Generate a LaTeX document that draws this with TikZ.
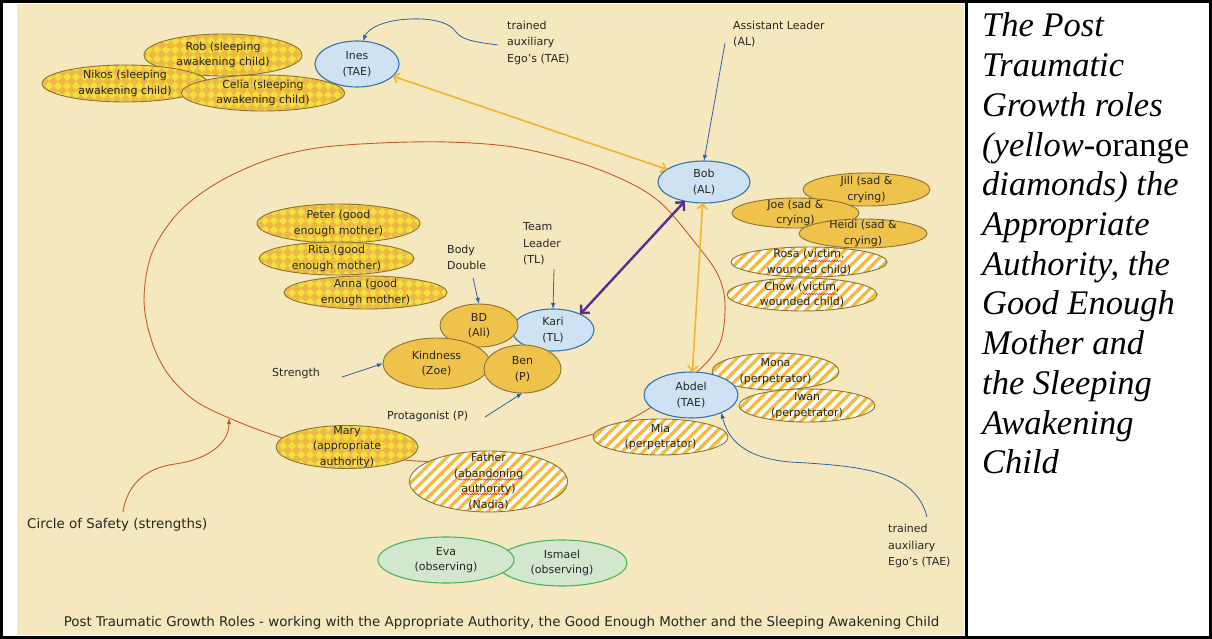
\documentclass[tikz,border=0pt]{standalone}
\usepackage{fontspec}
\newfontfamily\df{DejaVu Sans}
\newfontfamily\tn{Liberation Serif}
\usetikzlibrary{shapes.geometric,arrows.meta,patterns,patterns.meta,decorations.pathmorphing}
\definecolor{bgc}{HTML}{F6E8BE}
\definecolor{txt}{HTML}{262626}
\definecolor{blueF}{HTML}{CFE2F3}
\definecolor{blueB}{HTML}{2E75B6}
\definecolor{goldF}{HTML}{EFC24C}
\definecolor{goldB}{HTML}{8C7233}
\definecolor{dmBase}{HTML}{EDB845}
\definecolor{dmTop}{HTML}{F3E03C}
\definecolor{stripeC}{HTML}{F2BB3D}
\definecolor{grnF}{HTML}{D3E7CF}
\definecolor{grnB}{HTML}{49B565}
\definecolor{arrowblue}{HTML}{3060B0}
\definecolor{orangeA}{HTML}{F7B32B}
\definecolor{purpleA}{HTML}{5C2D91}
\definecolor{ellred}{HTML}{C55A2A}
\definecolor{squigred}{HTML}{E0303A}
\pgfdeclarepatternformonly{pdiam}{\pgfqpoint{0pt}{0pt}}{\pgfqpoint{9pt}{9pt}}{\pgfqpoint{9pt}{9pt}}{%
  \pgfpathmoveto{\pgfqpoint{4.5pt}{0pt}}\pgfpathlineto{\pgfqpoint{9pt}{4.5pt}}%
  \pgfpathlineto{\pgfqpoint{4.5pt}{9pt}}\pgfpathlineto{\pgfqpoint{0pt}{4.5pt}}%
  \pgfpathclose\pgfusepath{fill}}
\newcommand\EL[7]{%
  \node[#2,minimum width=#5pt,minimum height=#6pt] (#1) at (#3,#4) {};
  \node[etxt] (#1-t) at (#1.center) {#7};}
\begin{document}
\begin{tikzpicture}[x=1pt,y=-1pt,
  etxt/.style={font=\df\fontsize{11}{15.5}\selectfont, text=txt, inner sep=0pt, align=center},
  lbl/.style={font=\df\fontsize{11}{16.5}\selectfont, text=txt, inner sep=0pt, align=left, anchor=west},
  nbase/.style={ellipse, inner sep=0pt, outer sep=0pt},
  nblue/.style={nbase, draw=blueB, fill=blueF, line width=1.1pt},
  ngold/.style={nbase, draw=goldB, fill=goldF, line width=0.9pt},
  ndiam/.style={nbase, draw=goldB, line width=0.9pt, preaction={fill=dmBase}, pattern=pdiam, pattern color=dmTop},
  nhatch/.style={nbase, draw=goldB, line width=0.9pt, preaction={fill=white}, pattern={Lines[angle=45,distance=7.5pt,line width=3.4pt]}, pattern color=stripeC},
  ngreen/.style={nbase, draw=grnB, fill=grnF, line width=1.1pt},
  barrow/.style={draw=arrowblue, line width=0.8pt, -{Latex[length=6pt,width=4.5pt]}},
  oarrow/.style={draw=orangeA, line width=1.6pt, {Straight Barb[length=5pt,width=10pt]}-{Straight Barb[length=5pt,width=10pt]}},
  parrow/.style={draw=purpleA, line width=2.4pt, {Straight Barb[length=6pt,width=12pt]}-{Straight Barb[length=6pt,width=12pt]}},
  carrow/.style={draw=ellred, line width=0.9pt, -{Latex[length=6pt,width=4.5pt]}},
  squig/.style={draw=squigred, line width=0.5pt, decorate, decoration={snake,amplitude=0.8pt,segment length=2.6pt}},
  rp/.style={font=\tn\itshape\fontsize{34.5}{39.7}\selectfont, inner sep=0pt, anchor=base west}]
\useasboundingbox (0,0) rectangle (1212,639);
\fill[white] (0,0) rectangle (1212,639);
\fill[bgc] (17,4) rectangle (964,635);
% circle of safety
\draw[ellred, line width=0.9pt] plot[smooth cycle, tension=0.55] coordinates {
 (144,300) (152,253) (178,213) (217,183) (267,160) (317,148) (380,143) (447,142)
 (513,147) (580,163) (630,183) (662,204) (693,240) (717,273) (725,303) (720,343)
 (697,372) (650,408) (613,427) (580,438) (527,452) (470,460) (417,461) (350,453)
 (283,438) (229,418) (194,400) (168,374) (152,342)};
% nodes
\EL{rob}{ndiam}{223}{55}{158}{42}{Rob (sleeping\\awakening child)}
\EL{nikos}{ndiam}{125}{83.5}{166}{37}{Nikos (sleeping\\awakening child)}
\EL{celia}{ndiam}{263}{93}{163}{36}{Celia (sleeping\\awakening child)}
\EL{ines}{nblue}{357}{64}{84}{46}{Ines\\(TAE)}
\EL{bob}{nblue}{704}{182}{92}{42}{Bob\\(AL)}
\EL{jill}{ngold}{866.5}{189.5}{127}{33}{Jill (sad \&\\crying)}
\EL{joe}{ngold}{795.5}{213}{127}{30}{Joe (sad \&\\crying)}
\EL{heidi}{ngold}{863}{233.5}{128}{29}{Heidi (sad \&\\crying)}
\EL{rosa}{nhatch}{809}{262}{156}{30}{Rosa (victim,\\wounded child)}
\EL{chow}{nhatch}{802}{294.5}{150}{33}{Chow (victim,\\wounded child)}
\EL{peter}{ndiam}{338.5}{223.5}{163}{39}{Peter (good\\enough mother)}
\EL{rita}{ndiam}{336.5}{258.5}{155}{33}{Rita (good\\enough mother)}
\EL{anna}{ndiam}{365.5}{292.5}{163}{33}{Anna (good\\enough mother)}
\EL{kari}{nblue}{553}{330}{82}{42}{Kari\\(TL)}
\EL{bd}{ngold}{479}{325.5}{78}{43}{BD\\(Ali)}
\EL{kindness}{ngold}{436.5}{363.5}{107}{51}{Kindness\\(Zoe)}
\EL{ben}{ngold}{522.5}{369}{77}{48}{Ben\\(P)}
\EL{mona}{nhatch}{775.5}{371.5}{127}{37}{Mona\\(perpetrator)}
\EL{iwan}{nhatch}{807}{405.5}{136}{33}{Iwan\\(perpetrator)}
\EL{mia}{nhatch}{660.5}{437}{135}{36}{Mia\\(perpetrator)}
\EL{abdel}{nblue}{691}{395}{94}{46}{Abdel\\(TAE)}
\EL{mary}{ndiam}{347}{447}{142}{43}{Mary\\(appropriate\\authority)}
\EL{father}{nhatch}{488.5}{481.5}{158}{61}{Father\\(abandoning\\authority)\\(Nadia)}
\EL{ismael}{ngreen}{562}{563}{130}{46}{Ismael\\(observing)}
\EL{eva}{ngreen}{446}{560}{136}{46}{Eva\\(observing)}
% spelling squiggles
\draw[squig] (808,261) -- (843,261);
\draw[squig] (803,294) -- (838,294);
\draw[squig] (458,479.5) -- (517,479.5);
\draw[squig] (461,494) -- (509,494);
% labels
\node[lbl] (tae1) at (507,42.5) {trained\\auxiliary\\Ego’s (TAE)};
\node[lbl] (al) at (733,34) {Assistant Leader\\(AL)};
\node[lbl] (bdl) at (447,257.5) {Body\\Double};
\node[lbl] (tl) at (523,244) {Team\\Leader\\(TL)};
\node[lbl] (str) at (272,373) {Strength};
\node[lbl] (prot) at (387,416) {Protagonist (P)};
\node[lbl] (tae2) at (888,546) {trained\\auxiliary\\Ego’s (TAE)};
\node[lbl, font=\df\fontsize{13.4}{16}\selectfont] (cos) at (27,525) {Circle of Safety (strengths)};
\node[font=\df\fontsize{13.4}{15}\selectfont, text=txt, inner sep=0pt] (cap) at (501.5,623)
  {Post Traumatic Growth Roles - working with the Appropriate Authority, the Good Enough Mother and the Sleeping Awakening Child};
% connectors
\coordinate (tae1s) at (498,45);
\draw[barrow] (tae1s) .. controls (475,42) and (462,40) .. (456,32) .. controls (450,22) and (430,18) .. (410,19) .. controls (385,20) and (368,28) .. (ines.75);
\coordinate (als) at (725,43);
\draw[barrow] (als) -- (bob.north);
\coordinate (bds) at (473,278);
\draw[barrow] (bds) -- (bd.north);
\coordinate (tls) at (554,269);
\draw[barrow] (tls) -- (kari.north);
\coordinate (sts) at (342,377);
\draw[barrow] (sts) -- (kindness.west);
\coordinate (prs) at (485,417);
\draw[barrow] (prs) -- (ben.south);
\coordinate (tae2s) at (927,517);
\draw[barrow] (tae2s) .. controls (915,470) and (860,466) .. (790,462) .. controls (745,458) and (728,440) .. (abdel.-30);
\coordinate (cs) at (123,512);
\coordinate (ce) at (229,418);
\draw[carrow] (cs) .. controls (127,485) and (145,468) .. (175,464) .. controls (205,460) and (229,445) .. (ce);
\draw[oarrow] (ines) -- (bob);
\draw[oarrow] (bob) -- (abdel);
\draw[parrow] (bob.225) -- (kari.30);
% right panel
\foreach \t [count=\i] in {{The Post}, {Traumatic}, {Growth roles}, {(yellow\upshape-orange}, {diamonds) the}, {Appropriate}, {Authority, the}, {Good Enough}, {Mother and}, {the Sleeping}, {Awakening}, {Child}}
  \node[rp] (r\i) at (982,{37+39.7*(\i-1)}) {\t};
% frame
\draw[line width=3pt] (1.5,1.5) rectangle (1210.5,637.5);
\draw[line width=3pt] (966,1.5) -- (966,637.5);
\end{tikzpicture}
\end{document}
